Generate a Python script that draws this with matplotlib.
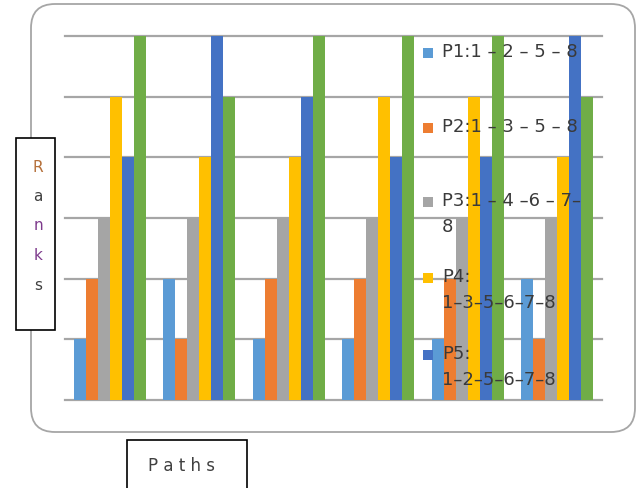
import numpy as np
import matplotlib
matplotlib.use("Agg")
import matplotlib.pyplot as plt
import matplotlib.transforms as mtransforms
from matplotlib.patches import Rectangle, FancyBboxPatch

W, H = 641, 488

# ranks of the six paths in each of the six groups
groups = np.arange(6)
p1 = [1, 2, 1, 1, 1, 2]
p2 = [2, 1, 2, 2, 2, 1]
p3 = [3, 3, 3, 3, 3, 3]
p4 = [5, 4, 4, 5, 5, 4]
p5 = [4, 6, 5, 4, 4, 6]
p6 = [6, 5, 6, 6, 6, 5]
series = [p1, p2, p3, p4, p5, p6]
colors = ['#5B9BD5', '#ED7D31', '#A5A5A5', '#FFC000', '#4472C4', '#70AD47']

# legend labels (only five fit in the picture)
legend_labels = ['P1:1 \u2013 2 \u2013 5 \u2013 8',
                 'P2:1 \u2013 3 \u2013 5 \u2013 8',
                 'P3:1 \u2013 4 \u20136 \u2013 7\u2013\n8',
                 'P4:\n1\u20133\u20135\u20136\u20137\u20138',
                 'P5:\n1\u20132\u20135\u20136\u20137\u20138']
ylabel_letters = ['R', 'a', 'n', 'k', 's']
ylabel_colors = ['#b5703a', '#404040', '#7d3a8c', '#7d3a8c', '#404040']
xlabel = 'P a t h s'

plt.rcParams['font.family'] = ['DejaVu Sans']

fig = plt.figure(figsize=(W / 100, H / 100), dpi=100)
# pixel coordinates, origin top left
px = mtransforms.Affine2D().scale(1 / W, -1 / H).translate(0, 1) + fig.transFigure

# rounded chart frame
fig.add_artist(FancyBboxPatch((31, 4), 604, 428, boxstyle='round,pad=0,rounding_size=24',
                              transform=px, facecolor='white', edgecolor='#a6a6a6',
                              lw=1.3, zorder=0))

ax = fig.add_axes([65 / W, 1 - 400 / H, (602 - 65) / W, (400 - 36) / H])
ax.set_facecolor('none')
for y in range(7):
    ax.axhline(y, color='#a6a6a6', lw=1.6, zorder=0, clip_on=False)

w = 0.8 / 6
for i, (vals, c) in enumerate(zip(series, colors)):
    ax.bar(groups + (i - 2.5) * w, vals, width=w, color=c, zorder=2)

ax.set_xlim(-0.5, 5.5)
ax.set_ylim(0, 6)
ax.set_xticks([])
ax.set_yticks([])
for s in ax.spines.values():
    s.set_visible(False)

# legend drawn by hand, as in the picture
marker_y = [53, 128, 202, 278, 355]
for lab, c, my in zip(legend_labels, colors, marker_y):
    fig.add_artist(Rectangle((423, my - 5), 10, 10, transform=px,
                             facecolor=c, edgecolor='none', zorder=5))
    fig.text(442, my - 10, lab, transform=px, fontsize=13, color='#3a3a3a',
             va='top', ha='left', linespacing=1.55, zorder=6)

# "Ranks" box
fig.add_artist(Rectangle((16, 138), 39, 192, transform=px, facecolor='white',
                         edgecolor='black', lw=1.2, zorder=7))
for k, (ch, c) in enumerate(zip(ylabel_letters, ylabel_colors)):
    fig.text(38, 167 + k * 29.5, ch, transform=px, fontsize=11, color=c,
             ha='center', va='center', zorder=8)

# "Paths" box
fig.add_artist(Rectangle((127, 440), 120, 60, transform=px, facecolor='white',
                         edgecolor='black', lw=1.2, zorder=7))
fig.text(182, 466, xlabel, transform=px, fontsize=12, color='#404040',
         ha='center', va='center', zorder=8)

fig.savefig('out.png', dpi=100)
